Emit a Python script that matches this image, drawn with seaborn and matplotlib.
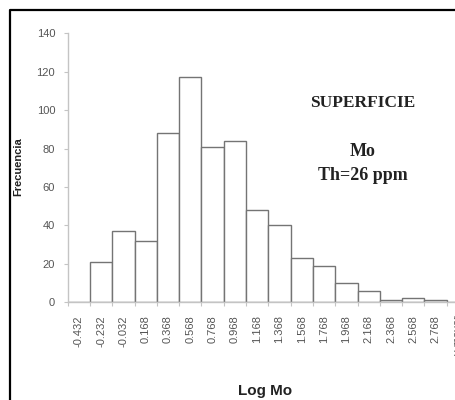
import numpy as np
import pandas as pd
import seaborn as sns
import matplotlib.pyplot as plt
from matplotlib.lines import Line2D

# clases del histograma (Log Mo) y frecuencias
clases = ["-0.432", "-0.232", "-0.032", "0.168", "0.368", "0.568", "0.768",
          "0.968", "1.168", "1.368", "1.568", "1.768", "1.968", "2.168",
          "2.368", "2.568", "2.768", "y mayor"]
frecuencia = [0, 21, 37, 32, 88, 117, 81, 84, 48, 40, 23, 19, 10, 6, 1, 2, 1, 0]
y_ticks = [0, 20, 40, 60, 80, 100, 120, 140]

df = pd.DataFrame({"clase": clases, "frecuencia": frecuencia})

sns.set_style("white")
plt.rcParams["font.family"] = ["Liberation Sans", "DejaVu Sans"]

W, H = 456, 400
fig = plt.figure(figsize=(W / 100, H / 100), dpi=100)
# el eje se extiende mas alla del borde derecho (recortado como en la imagen)
x0, x1, y0, y1 = 67.7, 469.0, 302.3, 33.3
ax = fig.add_axes([x0 / W, 1 - y0 / H, (x1 - x0) / W, (y0 - y1) / H])

sns.barplot(data=df, x="clase", y="frecuencia", color="white",
            edgecolor="#747474", linewidth=1.0, width=1.0, ax=ax)

ax.set_xlim(-0.5, len(clases) - 0.5)
ax.set_ylim(0, 140)
ax.set_yticks(y_ticks)
ax.set_xlabel("")
ax.set_ylabel("")

for s in ["top", "right"]:
    ax.spines[s].set_visible(False)
for s in ["left", "bottom"]:
    ax.spines[s].set_color("#c4c4c4")
    ax.spines[s].set_linewidth(1.0)

ax.tick_params(axis="y", direction="out", length=3, width=0.8, color="#c4c4c4",
               pad=6, labelsize=8, labelcolor="#555555", left=True)
ax.tick_params(axis="x", which="major", length=0, pad=9.5, labelsize=8,
               labelcolor="#555555", labelrotation=90)
ax.set_xticks(np.arange(-0.5, len(clases) + 0.5, 1), minor=True)
ax.tick_params(axis="x", which="minor", direction="out", length=3, width=0.8,
               color="#c4c4c4", bottom=True)
for lab in ax.get_xticklabels():
    lab.set_verticalalignment("top")

fig.text(18 / W, 1 - 167 / H, "Frecuencia", rotation=90, fontsize=8,
         fontweight="bold", ha="center", va="center", color="#222222")
fig.text(265 / W, 1 - 391 / H, "Log Mo", fontsize=11, fontweight="bold",
         ha="center", va="center", color="#222222")

serif = ["Liberation Serif", "DejaVu Serif"]
fig.text(363 / W, 1 - 103 / H, "SUPERFICIE", family=serif, fontsize=12.5,
         fontweight="bold", ha="center", va="center", color="#222222")
fig.text(363 / W, 1 - 152 / H, "Mo", family=serif, fontsize=13,
         fontweight="bold", ha="center", va="center", color="#222222")
fig.text(363 / W, 1 - 176 / H, "Th=26 ppm", family=serif, fontsize=13,
         fontweight="bold", ha="center", va="center", color="#222222")

# marco negro (izquierda y arriba)
fig.add_artist(Line2D([10.5 / W, 10.5 / W, 1.0], [0.0, 1 - 9.5 / H, 1 - 9.5 / H],
                      color="black", linewidth=1.6))

fig.savefig("out.png", dpi=100)
